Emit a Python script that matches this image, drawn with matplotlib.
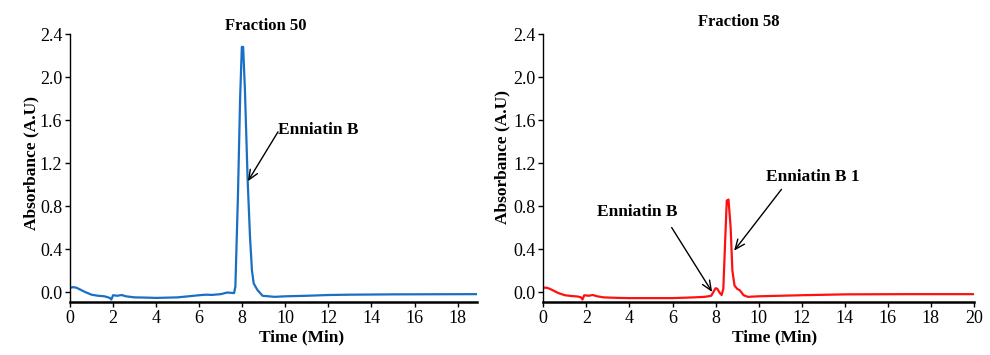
import matplotlib
matplotlib.use("Agg")
import matplotlib.pyplot as plt

plt.rcParams['font.family'] = ['Liberation Serif', 'DejaVu Serif']

# Fraction 50 chromatogram (time in min, absorbance A.U)
t50 = [0.0, 0.15, 0.3, 0.5, 0.7, 1.0, 1.3, 1.6, 1.85, 1.92, 2.0, 2.2, 2.4, 2.6, 3.0,
       3.5, 4.0, 5.0, 5.5, 6.0, 6.3, 6.6, 7.0, 7.3, 7.5, 7.62, 7.68, 7.8, 7.9, 7.98,
       8.04, 8.12, 8.25, 8.36, 8.45, 8.53, 8.7, 8.94, 9.5, 10.0, 11.0, 12.0, 13.0, 15.0, 18.9]
a50 = [0.04, 0.045, 0.04, 0.02, 0.0, -0.025, -0.035, -0.04, -0.055, -0.07, -0.03, -0.035, -0.028, -0.04, -0.05,
       -0.052, -0.055, -0.05, -0.04, -0.03, -0.025, -0.027, -0.02, -0.005, -0.008, -0.01, 0.05, 0.9, 1.8, 2.28,
       2.28, 1.9, 1.04, 0.51, 0.2, 0.08, 0.02, -0.035, -0.045, -0.04, -0.035, -0.028, -0.025, -0.022, -0.02]

# Fraction 58 chromatogram
t58 = [0.0, 0.15, 0.3, 0.5, 0.7, 1.0, 1.3, 1.6, 1.75, 1.82, 1.9, 2.1, 2.3, 2.5, 2.8,
       3.5, 4.0, 5.0, 6.0, 7.0, 7.5, 7.8, 7.9, 8.0, 8.08, 8.2, 8.28, 8.36, 8.45, 8.52,
       8.6, 8.7, 8.78, 8.88, 9.0, 9.13, 9.3, 9.5, 10.0, 12.0, 14.0, 17.0, 20.0]
a58 = [0.04, 0.04, 0.03, 0.01, -0.01, -0.03, -0.037, -0.042, -0.05, -0.07, -0.03, -0.035, -0.028, -0.04, -0.05,
       -0.055, -0.057, -0.057, -0.057, -0.05, -0.045, -0.035, 0.0, 0.035, 0.03, -0.01, -0.028, 0.03, 0.5, 0.85,
       0.86, 0.6, 0.2, 0.06, 0.03, 0.015, -0.03, -0.045, -0.04, -0.03, -0.022, -0.02, -0.02]

yticks = [0.0, 0.4, 0.8, 1.2, 1.6, 2.0, 2.4]
ytick_labels = ["0.0", "0.4", "0.8", "1.2", "1.6", "2.0", "2.4"]
xticks50 = [0, 2, 4, 6, 8, 10, 12, 14, 16, 18]
xticks58 = [0, 2, 4, 6, 8, 10, 12, 14, 16, 18, 20]

fig = plt.figure(figsize=(9.9, 3.55), dpi=100)
ax1 = fig.add_axes([0.0707, 0.1493, 0.4111, 0.7549])
ax2 = fig.add_axes([0.5488, 0.1493, 0.4350, 0.7549])

def style(ax, xmax, xticks):
    ax.set_ylim(-0.093, 2.4)
    ax.set_xlim(0, xmax)
    ax.set_yticks(yticks)
    ax.set_yticklabels(ytick_labels)
    ax.set_xticks(xticks)
    ax.spines['top'].set_visible(False)
    ax.spines['right'].set_visible(False)
    ax.spines['left'].set_linewidth(1.0)
    ax.spines['bottom'].set_linewidth(1.8)
    ax.tick_params(axis='both', labelsize=13, direction='out', length=3.5, width=1)
    ax.tick_params(axis='y', pad=2)
    ax.tick_params(axis='x', pad=2)

ax1.plot(t50, a50, color='#1a6fc4', lw=1.6)
style(ax1, 18.9, xticks50)
ax2.plot(t58, a58, color='#ff1010', lw=1.6)
style(ax2, 20, xticks58)

fig.text(266/990, 1 - 26/355, "Fraction 50", ha='center', va='center', fontsize=12, fontweight='bold')
fig.text(739/990, 1 - 22/355, "Fraction 58", ha='center', va='center', fontsize=12, fontweight='bold')
fig.text(31/990, 1 - 163/355, "Absorbance (A.U)", rotation=90, ha='center', va='center', fontsize=12.5, fontweight='bold')
fig.text(502/990, 1 - 157/355, "Absorbance (A.U)", rotation=90, ha='center', va='center', fontsize=12.5, fontweight='bold')
fig.text(302/990, 1 - 337/355, "Time (Min)", ha='center', va='center', fontsize=12.5, fontweight='bold')
fig.text(775/990, 1 - 337/355, "Time (Min)", ha='center', va='center', fontsize=12.5, fontweight='bold')

arrow = dict(arrowstyle='->,head_length=0.7,head_width=0.3', color='black', lw=1.0, shrinkA=0, shrinkB=0)

ax1.text(9.66, 1.51, "Enniatin B", ha='left', va='center', fontsize=12.5, fontweight='bold')
ax1.annotate("", xy=(8.26, 1.03), xytext=(9.66, 1.49), arrowprops=arrow)

ax2.text(4.37, 0.744, "Enniatin B", ha='center', va='center', fontsize=12.5, fontweight='bold')
ax2.annotate("", xy=(7.84, 0.0), xytext=(5.96, 0.60), arrowprops=arrow)
ax2.text(12.53, 1.073, "Enniatin B 1", ha='center', va='center', fontsize=12.5, fontweight='bold')
ax2.annotate("", xy=(8.86, 0.384), xytext=(11.06, 0.955), arrowprops=arrow)

fig.savefig("out.png", dpi=100)
